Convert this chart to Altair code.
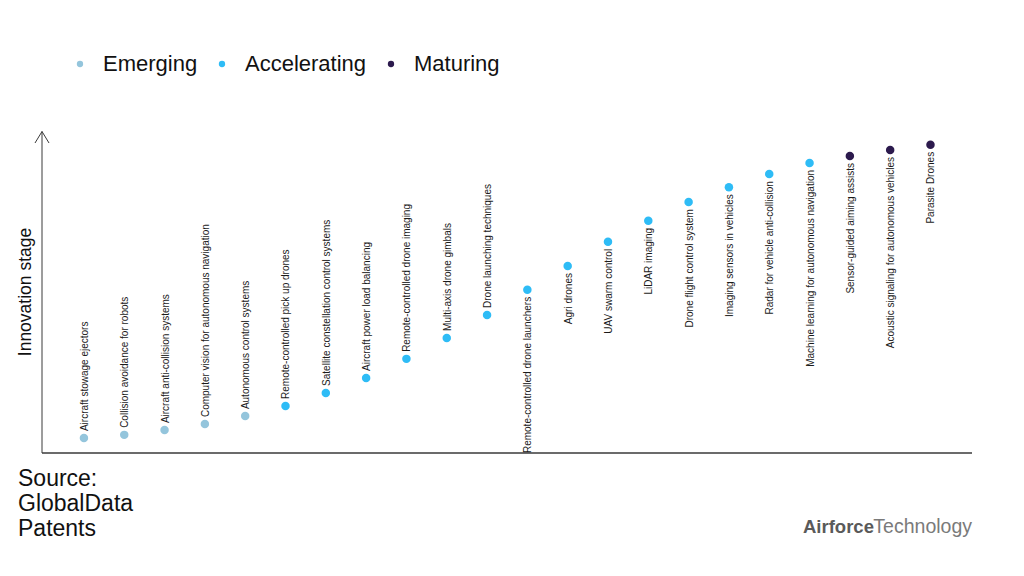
import altair as alt
import pandas as pd

technologies = [
    "Aircraft stowage ejectors",
    "Collision avoidance for robots",
    "Aircraft anti-collision systems",
    "Computer vision for autonomous navigation",
    "Autonomous control systems",
    "Remote-controlled pick up drones",
    "Satellite constellation control systems",
    "Aircraft power load balancing",
    "Remote-controlled drone imaging",
    "Multi-axis drone gimbals",
    "Drone launching techniques",
    "Remote-controlled drone launchers",
    "Agri drones",
    "UAV swarm control",
    "LiDAR imaging",
    "Drone flight control system",
    "Imaging sensors in vehicles",
    "Radar for vehicle anti-collision",
    "Machine learning for autonomous navigation",
    "Sensor-guided aiming assists",
    "Acoustic signaling for autonomous vehicles",
    "Parasite Drones",
]
innovation_score = [4.7, 5.7, 7.2, 9.1, 11.6, 14.8, 18.9, 23.6, 29.6, 36.2, 43.4,
                    51.3, 58.8, 66.4, 73.0, 78.9, 83.6, 87.7, 91.2, 93.4, 95.3, 96.9]
stages = ["Emerging"] * 5 + ["Accelerating"] * 14 + ["Maturing"] * 3
stage_order = ["Emerging", "Accelerating", "Maturing"]
stage_colors = ["#94c5dc", "#2ebcf6", "#2c1a4d"]

df = pd.DataFrame({
    "rank": list(range(1, len(technologies) + 1)),
    "technology": technologies,
    "score": innovation_score,
    "stage": stages,
})

W, H = 930, 318
FONT = "Liberation Sans"

xs = alt.X("rank:Q", scale=alt.Scale(domain=[-0.04, 23.03], nice=False, zero=False), axis=None)
ys = alt.Y("score:Q", scale=alt.Scale(domain=[0, 100], nice=False), axis=None)

base = alt.Chart(df)

points = base.mark_circle(size=72, opacity=1).encode(
    x=xs, y=ys,
    color=alt.Color(
        "stage:N",
        scale=alt.Scale(domain=stage_order, range=stage_colors),
        legend=alt.Legend(
            title=None, orient="none", direction="horizontal",
            legendX=27, legendY=-82,
            symbolType="circle", symbolSize=40, symbolStrokeWidth=0,
            labelFontSize=22, labelFont=FONT, labelColor="#111",
            labelOffset=12, columnPadding=13, padding=0,
        ),
    ),
)

labels_above = base.transform_filter("datum.rank <= 11").mark_text(
    angle=270, align="left", baseline="middle", dx=7, dy=1,
    fontSize=10, font=FONT, color="#1a1a1a",
).encode(x=xs, y=ys, text="technology:N")

labels_below = base.transform_filter("datum.rank > 11").mark_text(
    angle=270, align="right", baseline="middle", dx=-7, dy=1,
    fontSize=10, font=FONT, color="#1a1a1a",
).encode(x=xs, y=ys, text="technology:N")

axis_color = "#3a3a3a"
deco = alt.Chart(pd.DataFrame({"d": [0]}))

y_line = deco.mark_rule(color=axis_color, strokeWidth=1).encode(
    x=alt.value(0), y=alt.value(-3.5), y2=alt.value(H))
arrow_l = deco.mark_rule(color=axis_color, strokeWidth=1).encode(
    x=alt.value(0), x2=alt.value(-7), y=alt.value(-3.5), y2=alt.value(8))
arrow_r = deco.mark_rule(color=axis_color, strokeWidth=1).encode(
    x=alt.value(0), x2=alt.value(7), y=alt.value(-3.5), y2=alt.value(8))
x_line = deco.mark_rule(color=axis_color, strokeWidth=1.3).encode(
    x=alt.value(0), x2=alt.value(W), y=alt.value(H))

y_title = deco.mark_text(angle=270, align="center", baseline="middle",
                         fontSize=17.5, font=FONT, color="#111").encode(
    x=alt.value(-16), y=alt.value(157), text=alt.value("Innovation stage"))

source = deco.mark_text(align="left", baseline="alphabetic", lineBreak="\n",
                        lineHeight=25, fontSize=23, font=FONT, color="#111").encode(
    x=alt.value(-24), y=alt.value(351), text=alt.value("Source:\nGlobalData\nPatents"))

logo_a = deco.mark_text(align="left", baseline="alphabetic", fontSize=18.5,
                        font=FONT, fontWeight="bold", color="#5a5a5a").encode(
    x=alt.value(761), y=alt.value(398), text=alt.value("Airforce"))
logo_b = deco.mark_text(align="right", baseline="alphabetic", fontSize=19.5,
                        font=FONT, color="#7a7a7a").encode(
    x=alt.value(930), y=alt.value(398), text=alt.value("Technology"))

chart = alt.layer(
    y_line, arrow_l, arrow_r, x_line, points, labels_above, labels_below,
    y_title, source, logo_a, logo_b,
).properties(
    width=W, height=H,
    background="white",
    autosize=alt.AutoSizeParams(type="none"),
    padding={"left": 34, "top": 127, "right": 44, "bottom": 115},
).configure_view(strokeWidth=0, stroke="transparent")

chart.save("out.html", embed_options={"renderer": "svg", "actions": False})
